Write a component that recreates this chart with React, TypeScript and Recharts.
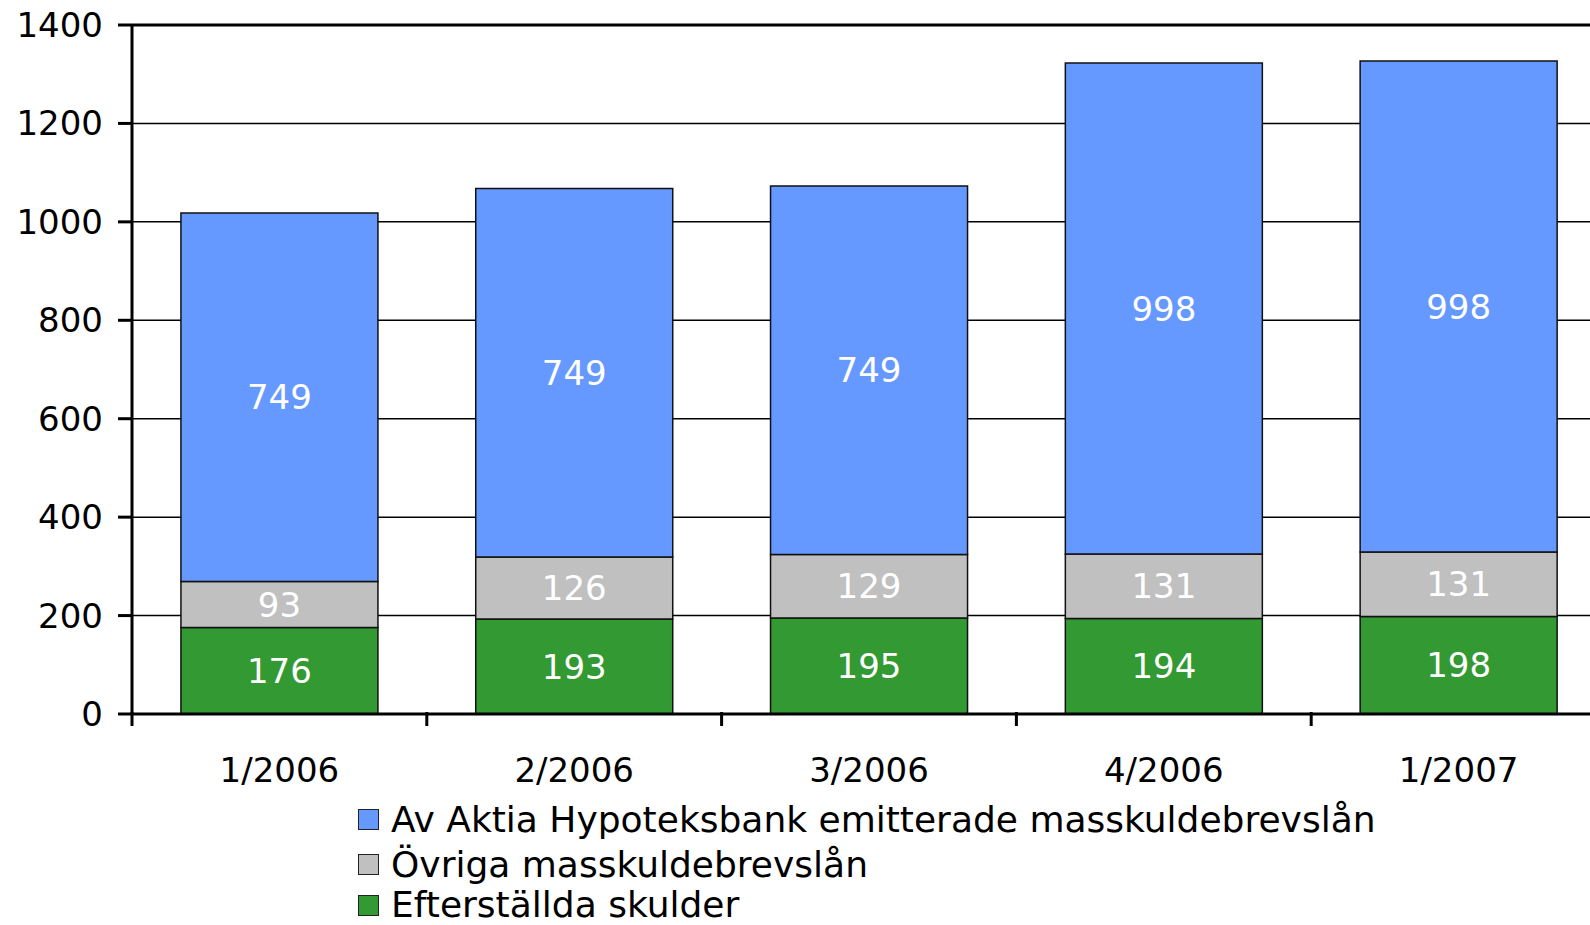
import { BarChart, Bar, XAxis, YAxis, CartesianGrid, LabelList, Legend, ReferenceLine } from 'recharts';

const quarters = ['1/2006', '2/2006', '3/2006', '4/2006', '1/2007'];
const efterstallda = [176, 193, 195, 194, 198];
const ovriga = [93, 126, 129, 131, 131];
const aktia = [749, 749, 749, 998, 998];
const yTicks = [0, 200, 400, 600, 800, 1000, 1200, 1400];

const seriesNames = {
  aktia: 'Av Aktia Hypoteksbank emitterade masskuldebrevslån',
  ovriga: 'Övriga masskuldebrevslån',
  efter: 'Efterställda skulder',
};

const colors = {
  aktia: '#6699FF',
  ovriga: '#C0C0C0',
  efter: '#339933',
};

const FONT = '"DejaVu Sans", Verdana, sans-serif';

const data = quarters.map((q, i) => ({
  quarter: q,
  efter: efterstallda[i],
  ovriga: ovriga[i],
  aktia: aktia[i],
}));

// category label at the centre, tick mark at the left edge of each band
function QuarterTick(props: any) {
  const { x, y, payload } = props;
  const off = payload?.offset ?? 0;
  return (
    <g>
      <line x1={x - off} y1={y - 2} x2={x - off} y2={y + 12} stroke="#000" strokeWidth={3} />
      <text x={x} y={y + 68} textAnchor="middle" fill="#000" fontSize={34} fontFamily={FONT}>
        {payload.value}
      </text>
    </g>
  );
}

function LegendBox() {
  const order: (keyof typeof colors)[] = ['aktia', 'ovriga', 'efter'];
  return (
    <div style={{ fontFamily: FONT, fontSize: 36, lineHeight: '36px', color: '#000' }}>
      {order.map((k, i) => (
        <div
          key={k}
          style={{ display: 'flex', alignItems: 'center', height: i < 2 ? 45 : 36, whiteSpace: 'nowrap' }}
        >
          <span
            style={{
              display: 'inline-block',
              width: 19,
              height: 19,
              background: colors[k],
              border: '1.5px solid #222',
              marginRight: 12,
            }}
          />
          <span>{seriesNames[k]}</span>
        </div>
      ))}
    </div>
  );
}

export default function App() {
  return (
    <div style={{ position: 'absolute', left: 0, top: 0, width: 1590, height: 925, overflow: 'hidden', background: '#fff' }}>
      <BarChart
        width={1606}
        height={925}
        data={data}
        margin={{ top: 25, right: 0, bottom: 0, left: 0 }}
        barCategoryGap="16.6%"
      >
        <CartesianGrid vertical={false} stroke="#000" strokeWidth={1.5} />
        <XAxis
          dataKey="quarter"
          height={211}
          tickLine={false}
          tickSize={0}
          tickMargin={0}
          axisLine={{ stroke: '#000', strokeWidth: 3 }}
          tick={<QuarterTick />}
          interval={0}
        />
        <YAxis
          width={132}
          domain={[0, 1400]}
          ticks={yTicks}
          interval={0}
          tickSize={14}
          tickMargin={15}
          axisLine={{ stroke: '#000', strokeWidth: 3 }}
          tickLine={{ stroke: '#000', strokeWidth: 3 }}
          tick={{ fill: '#000', fontSize: 34, fontFamily: FONT }}
        />
        <ReferenceLine y={1400} stroke="#000" strokeWidth={3} />
        <Bar dataKey="efter" stackId="a" fill={colors.efter} stroke="#111" strokeWidth={1.5} isAnimationActive={false}>
          <LabelList dataKey="efter" position="center" fill="#fff" fontSize={34} fontFamily={FONT} />
        </Bar>
        <Bar dataKey="ovriga" stackId="a" fill={colors.ovriga} stroke="#111" strokeWidth={1.5} isAnimationActive={false}>
          <LabelList dataKey="ovriga" position="center" fill="#fff" fontSize={34} fontFamily={FONT} />
        </Bar>
        <Bar dataKey="aktia" stackId="a" fill={colors.aktia} stroke="#111" strokeWidth={1.5} isAnimationActive={false}>
          <LabelList dataKey="aktia" position="center" fill="#fff" fontSize={34} fontFamily={FONT} />
        </Bar>
        <Legend
          layout="vertical"
          align="center"
          verticalAlign="middle"
          wrapperStyle={{ left: 358, top: 797, width: 1150 }}
          content={() => <LegendBox />}
        />
      </BarChart>
    </div>
  );
}
